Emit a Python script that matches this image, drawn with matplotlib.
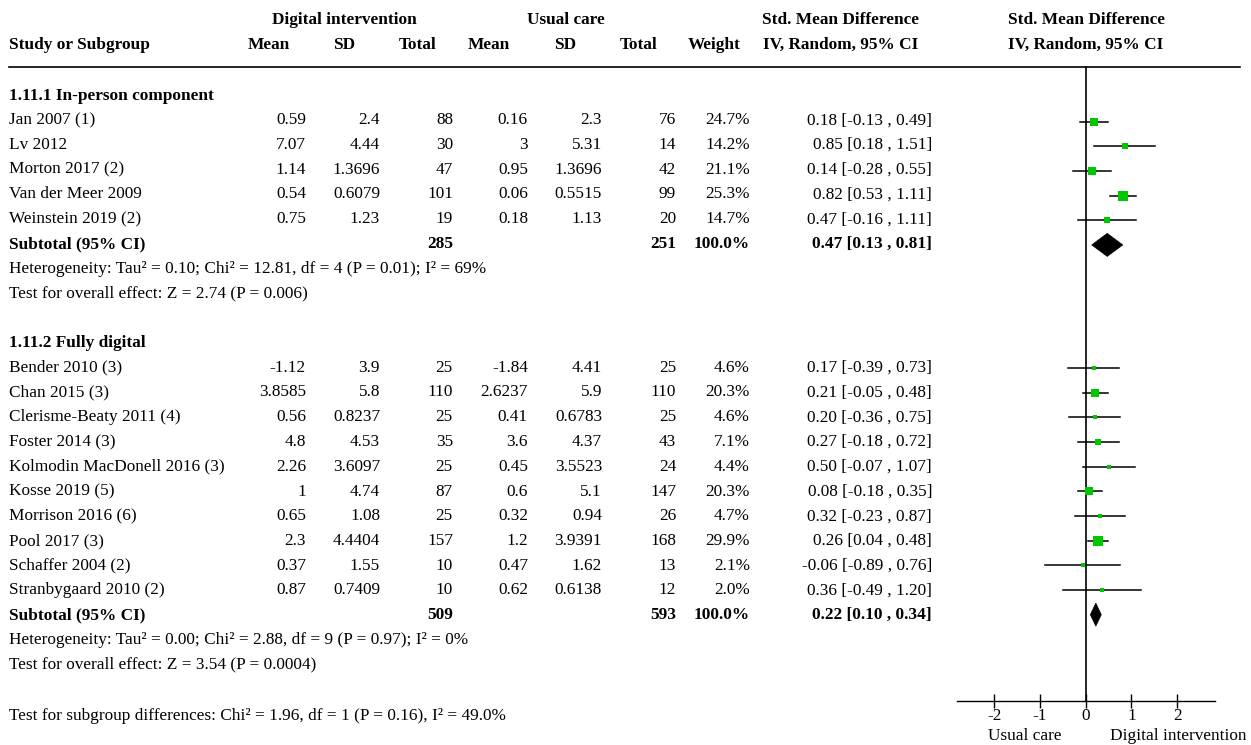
import matplotlib
matplotlib.use("Agg")
import matplotlib.pyplot as plt
from matplotlib.patches import Polygon

plt.rcParams['font.family'] = ['Liberation Serif', 'DejaVu Serif']
plt.rcParams['axes.unicode_minus'] = False

# 1.11.1 In-person component
studies1 = ["Jan 2007 (1)", "Lv 2012", "Morton 2017 (2)", "Van der Meer 2009", "Weinstein 2019 (2)"]
dig_mean1 = ["0.59", "7.07", "1.14", "0.54", "0.75"]
dig_sd1 = ["2.4", "4.44", "1.3696", "0.6079", "1.23"]
dig_n1 = [88, 30, 47, 101, 19]
uc_mean1 = ["0.16", "3", "0.95", "0.06", "0.18"]
uc_sd1 = ["2.3", "5.31", "1.3696", "0.5515", "1.13"]
uc_n1 = [76, 14, 42, 99, 20]
weight1 = [24.7, 14.2, 21.1, 25.3, 14.7]
smd1 = [0.18, 0.85, 0.14, 0.82, 0.47]
lo1 = [-0.13, 0.18, -0.28, 0.53, -0.16]
hi1 = [0.49, 1.51, 0.55, 1.11, 1.11]
sub1 = dict(n_dig=285, n_uc=251, est=0.47, lo=0.13, hi=0.81)
het1 = "Heterogeneity: Tau² = 0.10; Chi² = 12.81, df = 4 (P = 0.01); I² = 69%"
eff1 = "Test for overall effect: Z = 2.74 (P = 0.006)"

# 1.11.2 Fully digital
studies2 = ["Bender 2010 (3)", "Chan 2015 (3)", "Clerisme-Beaty 2011 (4)", "Foster 2014 (3)",
            "Kolmodin MacDonell 2016 (3)", "Kosse 2019 (5)", "Morrison 2016 (6)", "Pool 2017 (3)",
            "Schaffer 2004 (2)", "Stranbygaard 2010 (2)"]
dig_mean2 = ["-1.12", "3.8585", "0.56", "4.8", "2.26", "1", "0.65", "2.3", "0.37", "0.87"]
dig_sd2 = ["3.9", "5.8", "0.8237", "4.53", "3.6097", "4.74", "1.08", "4.4404", "1.55", "0.7409"]
dig_n2 = [25, 110, 25, 35, 25, 87, 25, 157, 10, 10]
uc_mean2 = ["-1.84", "2.6237", "0.41", "3.6", "0.45", "0.6", "0.32", "1.2", "0.47", "0.62"]
uc_sd2 = ["4.41", "5.9", "0.6783", "4.37", "3.5523", "5.1", "0.94", "3.9391", "1.62", "0.6138"]
uc_n2 = [25, 110, 25, 43, 24, 147, 26, 168, 13, 12]
weight2 = [4.6, 20.3, 4.6, 7.1, 4.4, 20.3, 4.7, 29.9, 2.1, 2.0]
smd2 = [0.17, 0.21, 0.20, 0.27, 0.50, 0.08, 0.32, 0.26, -0.06, 0.36]
lo2 = [-0.39, -0.05, -0.36, -0.18, -0.07, -0.18, -0.23, 0.04, -0.89, -0.49]
hi2 = [0.73, 0.48, 0.75, 0.72, 1.07, 0.35, 0.87, 0.48, 0.76, 1.20]
sub2 = dict(n_dig=509, n_uc=593, est=0.22, lo=0.10, hi=0.34)
het2 = "Heterogeneity: Tau² = 0.00; Chi² = 2.88, df = 9 (P = 0.97); I² = 0%"
eff2 = "Test for overall effect: Z = 3.54 (P = 0.0004)"

subgroup_test = "Test for subgroup differences: Chi² = 1.96, df = 1 (P = 0.16), I² = 49.0%"

W, H = 1251, 745
FS = 12.4
GREEN = '#00c800'


def text_y(i):
    # baseline of table row i
    return 99.5 + i * 24.75


def mark_y(i):
    return 97 + i * 24.65


def ci_text(e, lo, hi):
    return f"{e:.2f} [{lo:.2f} , {hi:.2f}]"


fig = plt.figure(figsize=(W / 100, H / 100), dpi=100)

# table part, drawn in pixel coordinates
tx = fig.add_axes([0, 0, 1, 1])
tx.set_xlim(0, W)
tx.set_ylim(H, 0)
tx.axis('off')

# forest part, x in SMD units, y in the same pixel rows
fx = fig.add_axes([957 / W, 0, (1215 - 957) / W, 1])
fx.set_xlim(-2.82, 2.83)
fx.set_ylim(H, 0)
fx.patch.set_alpha(0)
for s in ['top', 'left', 'right']:
    fx.spines[s].set_visible(False)
fx.spines['bottom'].set_position(('data', 701))
fx.spines['bottom'].set_linewidth(1.0)
fx.set_yticks([])
fx.set_xticks([-2, -1, 0, 1, 2])
fx.tick_params(axis='x', direction='inout', length=10, width=1.0, labelsize=FS, pad=0)

# column right edges
c_mean_d, c_sd_d, c_n_d = 306, 380, 453
c_mean_u, c_sd_u, c_n_u = 528, 602, 676
c_w, c_ci = 750, 932

# headers
hb = dict(fontsize=FS, fontweight='bold', va='baseline')
tx.text(344, 24, "Digital intervention", ha='center', **hb)
tx.text(566, 24, "Usual care", ha='center', **hb)
tx.text(841, 24, "Std. Mean Difference", ha='center', **hb)
tx.text(1086, 24, "Std. Mean Difference", ha='center', **hb)
tx.text(9, 49, "Study or Subgroup", ha='left', **hb)
for x, lab in [(269, "Mean"), (344, "SD"), (418, "Total"), (489, "Mean"), (565, "SD"),
               (639, "Total"), (714, "Weight"), (841, "IV, Random, 95% CI"),
               (1086, "IV, Random, 95% CI")]:
    tx.text(x, 49, lab, ha='center', **hb)
tx.plot([9, 1240], [67, 67], color='black', lw=1.2)

fx.plot([0, 0], [67, 701], color='black', lw=1.2, zorder=1)


def draw_group(start, title, studies, dm, dsd, dn, um, usd, un, wt, est, lo, hi, sub, het, eff):
    tx.text(9, text_y(start), title, ha='left', va='baseline', fontsize=FS, fontweight='bold')
    for k in range(len(studies)):
        i = start + 1 + k
        y = text_y(i)
        kw = dict(fontsize=FS, va='baseline')
        tx.text(9, y, studies[k], ha='left', **kw)
        tx.text(c_mean_d, y, dm[k], ha='right', **kw)
        tx.text(c_sd_d, y, dsd[k], ha='right', **kw)
        tx.text(c_n_d, y, str(dn[k]), ha='right', **kw)
        tx.text(c_mean_u, y, um[k], ha='right', **kw)
        tx.text(c_sd_u, y, usd[k], ha='right', **kw)
        tx.text(c_n_u, y, str(un[k]), ha='right', **kw)
        tx.text(c_w, y, f"{wt[k]:.1f}%", ha='right', **kw)
        tx.text(c_ci, y, ci_text(est[k], lo[k], hi[k]), ha='right', **kw)
        my = mark_y(i)
        fx.plot([lo[k], hi[k]], [my, my], color='black', lw=1.1, zorder=2)
        size_px = 3.7 + 0.21 * wt[k]
        fx.plot(est[k], my, 's', ms=size_px * 0.72, color=GREEN, mec=GREEN, mew=0, zorder=3)
    i = start + 1 + len(studies)
    y = text_y(i)
    kb = dict(fontsize=FS, va='baseline', fontweight='bold')
    tx.text(9, y, "Subtotal (95% CI)", ha='left', **kb)
    tx.text(c_n_d, y, str(sub['n_dig']), ha='right', **kb)
    tx.text(c_n_u, y, str(sub['n_uc']), ha='right', **kb)
    tx.text(c_w, y, "100.0%", ha='right', **kb)
    tx.text(c_ci, y, ci_text(sub['est'], sub['lo'], sub['hi']), ha='right', **kb)
    my = mark_y(i)
    dia = Polygon([(sub['lo'], my), (sub['est'], my - 11.5), (sub['hi'], my), (sub['est'], my + 11.5)],
                  closed=True, facecolor='black', edgecolor='black', lw=0.5, zorder=3)
    fx.add_patch(dia)
    tx.text(9, text_y(i + 1), het, ha='left', va='baseline', fontsize=FS)
    tx.text(9, text_y(i + 2), eff, ha='left', va='baseline', fontsize=FS)


draw_group(0, "1.11.1 In-person component", studies1, dig_mean1, dig_sd1, dig_n1,
           uc_mean1, uc_sd1, uc_n1, weight1, smd1, lo1, hi1, sub1, het1, eff1)
draw_group(10, "1.11.2 Fully digital", studies2, dig_mean2, dig_sd2, dig_n2,
           uc_mean2, uc_sd2, uc_n2, weight2, smd2, lo2, hi2, sub2, het2, eff2)

tx.text(9, text_y(25) + 1.5, subgroup_test, ha='left', va='baseline', fontsize=FS)

# favours labels under the axis
tx.text(1025, 740, "Usual care", ha='center', va='baseline', fontsize=FS)
tx.text(1178, 740, "Digital intervention", ha='center', va='baseline', fontsize=FS)

fig.savefig("out.png", dpi=100)
